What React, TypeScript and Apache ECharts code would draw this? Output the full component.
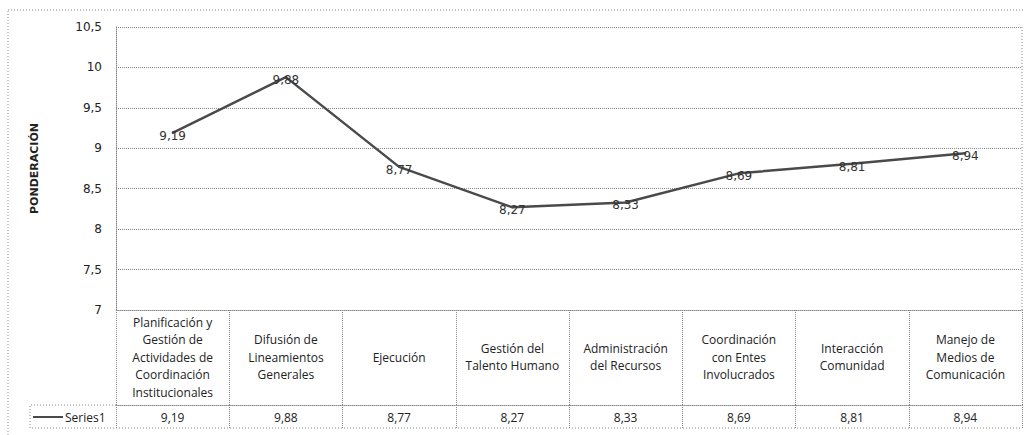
import React, { useEffect, useRef } from "react";
import * as echarts from "echarts";

const categories = [
  "Planificación y\nGestión de\nActividades de\nCoordinación\nInstitucionales",
  "Difusión de\nLineamientos\nGenerales",
  "Ejecución",
  "Gestión del\nTalento Humano",
  "Administración\ndel Recursos",
  "Coordinación\ncon Entes\nInvolucrados",
  "Interacción\nComunidad",
  "Manejo de\nMedios de\nComunicación",
];
const seriesName = "Series1";
const values = [9.19, 9.88, 8.77, 8.27, 8.33, 8.69, 8.81, 8.94];
const yMin = 7;
const yMax = 10.5;
const yInterval = 0.5;
const yAxisTitle = "PONDERACIÓN";

const fmt = (v: number) => String(v).replace(".", ",");

export default function App() {
  const ref = useRef<HTMLDivElement>(null);
  useEffect(() => {
    if (!ref.current) return;
    const chart = echarts.init(ref.current, null, { renderer: "svg" });
    const dotted = { color: "#8a8a8a", type: "dotted" as const, width: 1 };
    const tableFont = "'Open Sans', 'Noto Sans', sans-serif";
    chart.setOption({
      animation: false,
      backgroundColor: "#ffffff",
      grid: { left: 116, right: 2, top: 27, bottom: 125, containLabel: false },
      legend: {
        left: 33,
        top: 411,
        itemWidth: 30,
        itemHeight: 2,
        itemGap: 0,
        padding: 0,
        textStyle: { fontSize: 12, color: "#222", fontFamily: tableFont, padding: [0, 0, 0, -3] },
        data: [{ name: seriesName, icon: "rect" }],
      },
      xAxis: [
        {
          type: "category",
          data: categories,
          position: "bottom",
          boundaryGap: true,
          axisLine: { show: true, lineStyle: dotted },
          axisTick: { show: true, interval: 0, length: 95, lineStyle: dotted },
          axisLabel: {
            interval: 0,
            margin: 47,
            verticalAlign: "middle",
            lineHeight: 17.5,
            fontSize: 12,
            color: "#222",
            fontFamily: tableFont,
          },
          splitLine: { show: false },
        },
        {
          type: "category",
          data: values.map(fmt),
          position: "bottom",
          offset: 95,
          boundaryGap: true,
          axisLine: { show: true, lineStyle: dotted },
          axisTick: { show: true, interval: 0, length: 23, lineStyle: dotted },
          axisLabel: {
            interval: 0,
            margin: 12,
            verticalAlign: "middle",
            fontSize: 12,
            color: "#222",
            fontFamily: tableFont,
          },
          splitLine: { show: false },
        },
      ],
      yAxis: {
        type: "value",
        min: yMin,
        max: yMax,
        interval: yInterval,
        name: yAxisTitle,
        nameLocation: "middle",
        nameGap: 76,
        nameRotate: 90,
        nameTextStyle: {
          fontSize: 11,
          fontWeight: "bold",
          color: "#222",
          fontFamily: "'DejaVu Sans', sans-serif",
        },
        axisLine: { show: true, lineStyle: dotted },
        axisTick: { show: false },
        axisLabel: {
          margin: 14,
          fontSize: 12,
          color: "#222",
          fontFamily: "'DejaVu Sans', Verdana, sans-serif",
          formatter: (v: number) => fmt(v),
        },
        splitLine: { show: true, lineStyle: dotted },
      },
      series: [
        {
          name: seriesName,
          type: "line",
          data: values,
          xAxisIndex: 0,
          symbol: "circle",
          symbolSize: 2,
          showSymbol: true,
          lineStyle: { color: "#4a4a4a", width: 2.5 },
          itemStyle: { color: "#4a4a4a" },
          label: {
            show: true,
            position: "inside",
            offset: [0, 3],
            fontSize: 12,
            color: "#333",
            fontFamily: "'DejaVu Sans', Verdana, sans-serif",
            formatter: (p: any) => fmt(p.value),
          },
        },
      ],
      graphic: [
        {
          type: "rect",
          shape: { x: 8, y: 10, width: 1040, height: 440 },
          style: { fill: "none", stroke: "#8a8a8a", lineWidth: 1, lineDash: [1, 2] },
          silent: true,
        },
        {
          type: "polyline",
          shape: { points: [[116, 405], [30, 405], [30, 428], [1022, 428]] },
          style: { fill: "none", stroke: "#8a8a8a", lineWidth: 1, lineDash: [1, 2] },
          silent: true,
        },
        {
          type: "line",
          shape: { x1: 1022, y1: 27, x2: 1022, y2: 310 },
          style: { stroke: "#8a8a8a", lineWidth: 1, lineDash: [1, 2] },
          silent: true,
        },
      ],
    });
    return () => chart.dispose();
  }, []);
  return (
    <div
      ref={ref}
      style={{ position: "fixed", left: 0, top: 0, width: 1024, height: 435 }}
    />
  );
}
